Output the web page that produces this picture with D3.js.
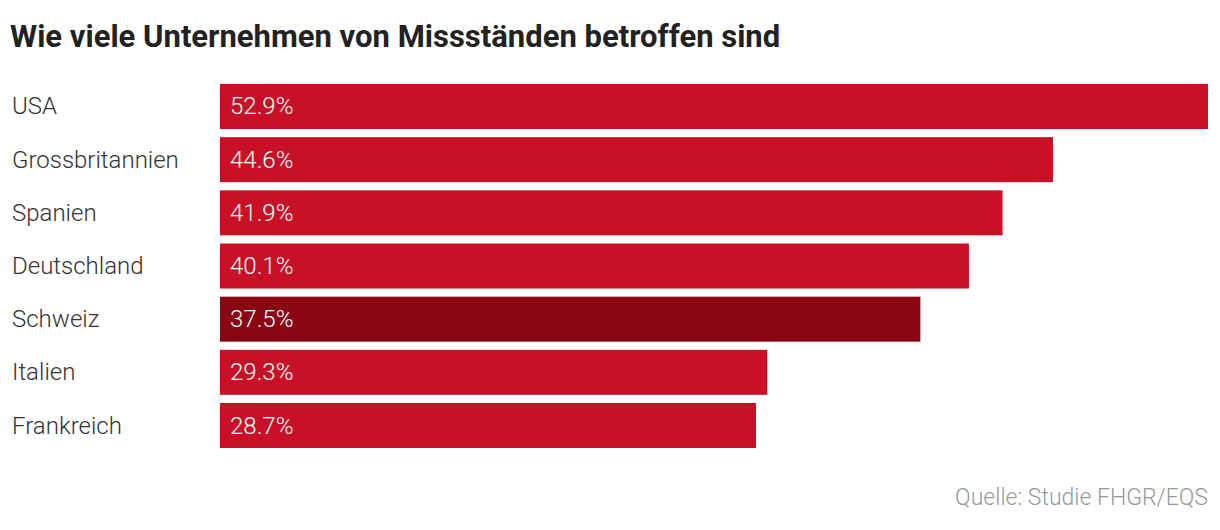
<!DOCTYPE html>
<html><head><meta charset="utf-8">
<script src="https://cdn.jsdelivr.net/npm/d3@7"></script>
<style>body{margin:0;background:#fff}svg{display:block}</style>
</head><body>
<script>
const categories = ["USA","Grossbritannien","Spanien","Deutschland","Schweiz","Italien","Frankreich"];
const values = [52.9,44.6,41.9,40.1,37.5,29.3,28.7];
const highlight = "Schweiz";
const W=1220,H=530;
const svg=d3.select("body").append("svg").attr("width",W).attr("height",H);
const font="Roboto, 'Noto Sans', sans-serif";
svg.append("text").attr("x",10).attr("y",47).attr("font-family",font).attr("font-weight",700)
  .attr("font-size",31).attr("fill","#222").text("Wie viele Unternehmen von Missständen betroffen sind");
const x=d3.scaleLinear().domain([0,52.9]).range([220,1208]);
const y=d3.scaleBand().domain(categories).range([84,448]).paddingInner(8/52).paddingOuter(0);
const g=svg.append("g");
categories.forEach((c,i)=>{
  g.append("rect").attr("x",x(0)).attr("y",y(c)).attr("width",x(values[i])-x(0)).attr("height",y.bandwidth())
   .attr("fill",c===highlight?"#8a0613":"#c81126");
  g.append("text").attr("x",12).attr("y",y(c)+y.bandwidth()/2+8).attr("font-family",font).attr("font-weight",300)
   .attr("font-size",24).attr("fill","#333").text(c);
  g.append("text").attr("x",x(0)+10).attr("y",y(c)+y.bandwidth()/2+8).attr("font-family",font).attr("font-weight",300)
   .attr("font-size",24).attr("fill","#fff").text(values[i].toFixed(1)+"%");
});
svg.append("text").attr("x",1208).attr("y",505).attr("text-anchor","end").attr("font-family",font).attr("font-weight",300)
  .attr("font-size",23).attr("fill","#999").text("Quelle: Studie FHGR/EQS");
</script>
</body></html>
